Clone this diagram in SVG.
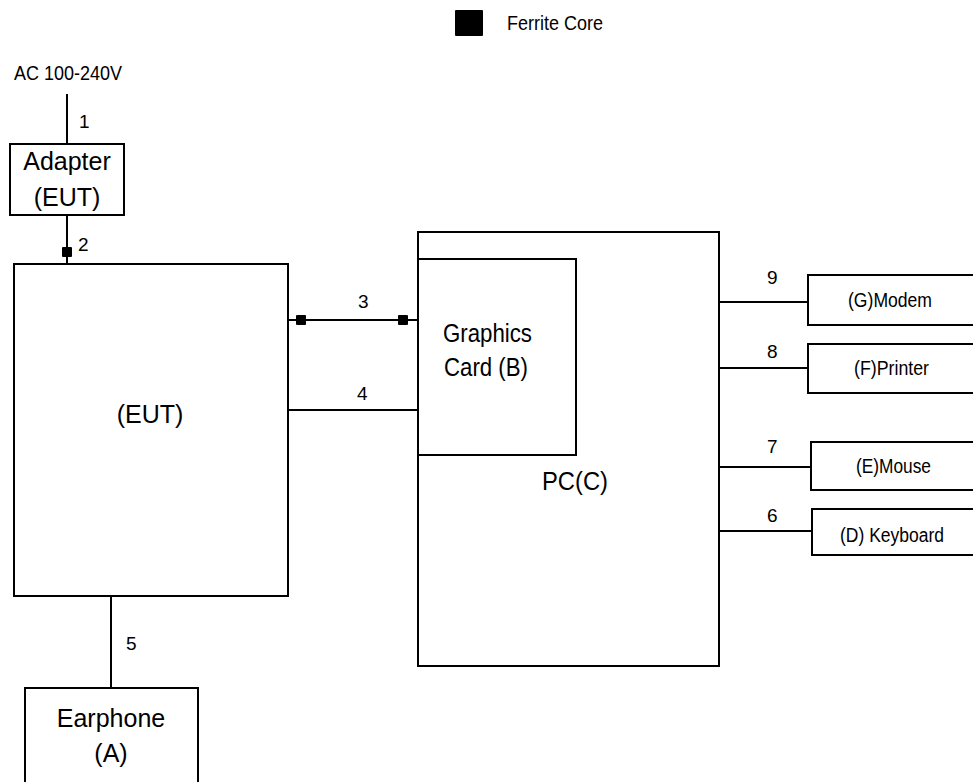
<svg xmlns="http://www.w3.org/2000/svg" width="973" height="782" viewBox="0 0 973 782">
<style>
.box{fill:#fff;stroke:#000;stroke-width:2}
.ln{stroke:#000;stroke-width:2;fill:none}
.fc{fill:#000}
text{font-family:"Liberation Sans",Arial,sans-serif;fill:#000}
.big{font-size:25px}
.mid{font-size:20px}
.num{font-size:19px}
</style>
<rect width="973" height="782" fill="#fff"/>
<g id="legend">
<rect class="fc" x="455" y="10" width="28" height="26" rx="1"/>
<text class="mid" x="507" y="30" textLength="96" lengthAdjust="spacingAndGlyphs">Ferrite Core</text>
</g>
<g id="ac-source">
<text class="mid" x="14" y="80" textLength="108" lengthAdjust="spacingAndGlyphs">AC  100-240V</text>
</g>
<g id="connectors">
<line class="ln" x1="67" y1="94" x2="67" y2="144"/>
<line class="ln" x1="67" y1="215" x2="67" y2="264"/>
<line class="ln" x1="288" y1="320" x2="418" y2="320"/>
<line class="ln" x1="288" y1="410" x2="418" y2="410"/>
<line class="ln" x1="111" y1="596" x2="111" y2="688"/>
<line class="ln" x1="718" y1="531" x2="812" y2="531"/>
<line class="ln" x1="718" y1="467" x2="811" y2="467"/>
<line class="ln" x1="718" y1="368" x2="808" y2="368"/>
<line class="ln" x1="718" y1="302" x2="808" y2="302"/>
<rect class="fc" x="62" y="247" width="10" height="10" rx="1"/>
<rect class="fc" x="296" y="315" width="10" height="10" rx="1"/>
<rect class="fc" x="398" y="315" width="10" height="10" rx="1"/>
<text class="num" x="79" y="128">1</text>
<text class="num" x="78" y="251">2</text>
<text class="num" x="358" y="308">3</text>
<text class="num" x="357" y="400">4</text>
<text class="num" x="126" y="650">5</text>
<text class="num" x="767" y="522">6</text>
<text class="num" x="767" y="453">7</text>
<text class="num" x="767" y="358">8</text>
<text class="num" x="767" y="284">9</text>
</g>
<g id="adapter">
<rect class="box" x="10" y="144" width="114" height="71"/>
<text class="big" x="67" y="170" text-anchor="middle">Adapter</text>
<text class="big" x="67" y="206" text-anchor="middle">(EUT)</text>
</g>
<g id="eut">
<rect class="box" x="14" y="264" width="274" height="332"/>
<text class="big" x="150" y="423" text-anchor="middle">(EUT)</text>
</g>
<g id="pc">
<rect class="box" x="418" y="232" width="301" height="434"/>
<text class="big" x="542" y="490" style="font-size:26px" textLength="66" lengthAdjust="spacingAndGlyphs">PC(C)</text>
</g>
<g id="graphics-card">
<rect class="box" x="418" y="259" width="158" height="196"/>
<text class="big" x="443" y="342" style="font-size:26px" textLength="89" lengthAdjust="spacingAndGlyphs">Graphics</text>
<text class="big" x="444" y="376" style="font-size:26px" textLength="84" lengthAdjust="spacingAndGlyphs">Card (B)</text>
</g>
<g id="modem">
<rect class="box" x="808" y="275" width="170" height="50"/>
<text class="mid" x="848" y="307" textLength="84" lengthAdjust="spacingAndGlyphs">(G)Modem</text>
</g>
<g id="printer">
<rect class="box" x="808" y="344" width="170" height="49"/>
<text class="mid" x="854" y="375" textLength="75" lengthAdjust="spacingAndGlyphs">(F)Printer</text>
</g>
<g id="mouse">
<rect class="box" x="811" y="442" width="170" height="48"/>
<text class="mid" x="856" y="473" textLength="75" lengthAdjust="spacingAndGlyphs">(E)Mouse</text>
</g>
<g id="keyboard">
<rect class="box" x="812" y="509" width="170" height="46"/>
<text class="mid" x="840" y="542" textLength="104" lengthAdjust="spacingAndGlyphs">(D)  Keyboard</text>
</g>
<g id="earphone">
<rect class="box" x="25" y="688" width="173" height="110"/>
<text class="big" x="111" y="727" text-anchor="middle">Earphone</text>
<text class="big" x="111" y="762" text-anchor="middle">(A)</text>
</g>
</svg>
